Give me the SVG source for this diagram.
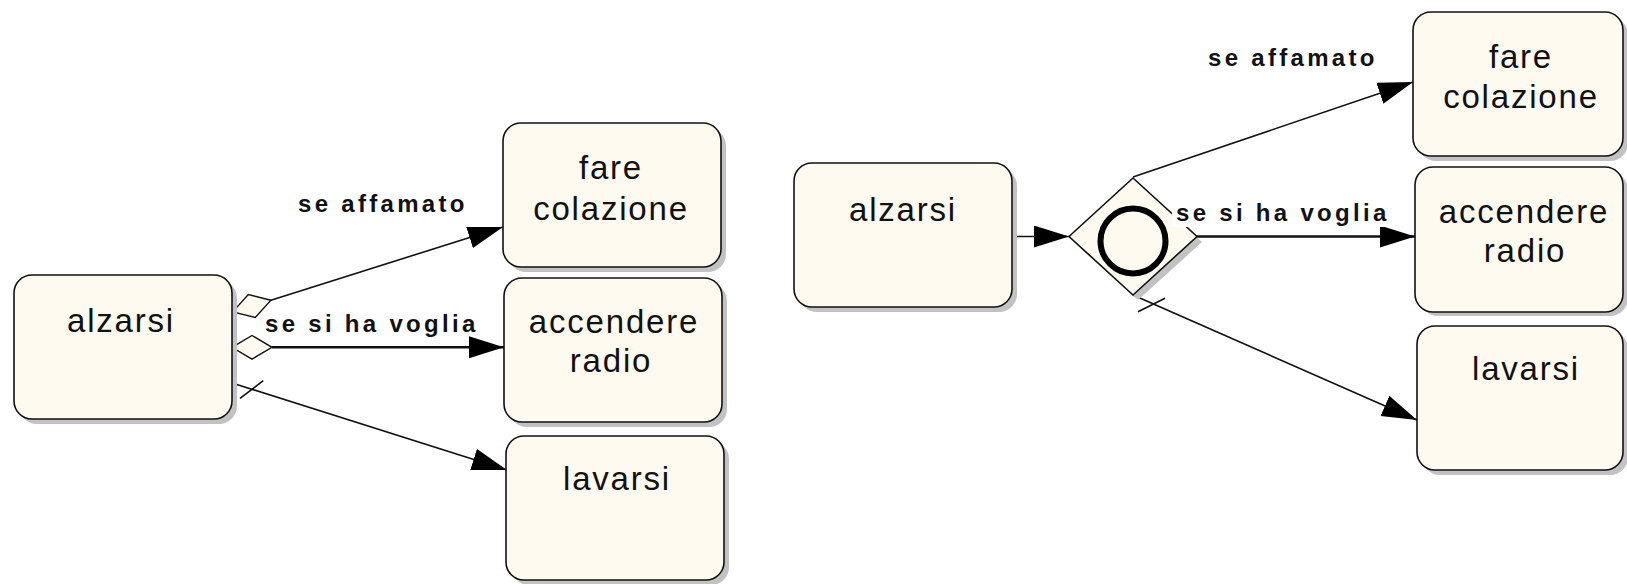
<svg xmlns="http://www.w3.org/2000/svg" width="1627" height="584" viewBox="0 0 1627 584">
<style>
.shadow{fill:#c2c2c2;stroke:none}
.box{fill:#fffaf0;stroke:#111;stroke-width:1.6}
.nt{font-family:"Liberation Sans",Arial,sans-serif;font-size:33px;letter-spacing:1.8px;fill:#111;text-anchor:middle}
.lbl{font-family:"Liberation Sans",Arial,sans-serif;font-size:24px;font-weight:bold;letter-spacing:3.3px;fill:#111}
.ln{stroke:#111;stroke-width:1.6;fill:none}
.thick{stroke-width:2.6}
.dm{fill:#fffaf0;stroke:#111;stroke-width:1.4}
</style>
<defs>
<marker id="arr" markerUnits="userSpaceOnUse" markerWidth="36" markerHeight="24" refX="35" refY="11" orient="auto" viewBox="0 0 36 24">
<path d="M0,0 L35,11 L0,22 z" fill="#000"/>
</marker>
</defs>
<rect width="1627" height="584" fill="#fff"/>

<g id="connectors">
<polygon class="dm" points="232.7,311.9 248.3,294.5 270.9,300.2 255.3,317.5"/>
<line class="ln" x1="270.9" y1="300.2" x2="503" y2="227" marker-end="url(#arr)"/>
<polygon class="dm" points="232,347.3 252,335.5 272,347.3 252,359.1"/>
<line class="ln thick" x1="272" y1="347.3" x2="504" y2="347.3" marker-end="url(#arr)"/>
<line class="ln" x1="232" y1="383" x2="507" y2="470" marker-end="url(#arr)"/>
<line class="ln" stroke-width="1.2" x1="240" y1="398.3" x2="263.3" y2="380.7"/>
<text class="lbl" x="298" y="211.5">se affamato</text>
<text class="lbl" x="265" y="331.5">se si ha voglia</text>

<line class="ln" x1="1012" y1="236.5" x2="1069" y2="236.5" marker-end="url(#arr)"/>
<line class="ln" x1="1133" y1="177" x2="1413" y2="82" marker-end="url(#arr)"/>
<line class="ln thick" x1="1197" y1="236.5" x2="1415" y2="236.5" marker-end="url(#arr)"/>
<line class="ln" x1="1133" y1="295" x2="1417" y2="420" marker-end="url(#arr)"/>
<line class="ln" stroke-width="1.2" x1="1138" y1="311.7" x2="1165" y2="298.3"/>
</g>

<g id="alzarsi-1">
<rect class="shadow" x="19" y="280" width="218" height="144" rx="18"/>
<rect class="box" x="14" y="275" width="218" height="144" rx="18"/>
<text class="nt" x="121" y="332">alzarsi</text>
</g>
<g id="fare-colazione-1">
<rect class="shadow" x="508" y="128" width="218" height="144" rx="18"/>
<rect class="box" x="503" y="123" width="218" height="144" rx="18"/>
<text class="nt" x="611" y="179">fare</text>
<text class="nt" x="611" y="220">colazione</text>
</g>
<g id="accendere-radio-1">
<rect class="shadow" x="509" y="283" width="218" height="144" rx="18"/>
<rect class="box" x="504" y="278" width="218" height="144" rx="18"/>
<text class="nt" x="614" y="333">accendere</text>
<text class="nt" x="611" y="372">radio</text>
</g>
<g id="lavarsi-1">
<rect class="shadow" x="511" y="441" width="218" height="144" rx="18"/>
<rect class="box" x="506" y="436" width="218" height="144" rx="18"/>
<text class="nt" x="617" y="490">lavarsi</text>
</g>

<g id="alzarsi-2">
<rect class="shadow" x="799" y="168" width="218" height="144" rx="18"/>
<rect class="box" x="794" y="163" width="218" height="144" rx="18"/>
<text class="nt" x="903" y="221">alzarsi</text>
</g>
<g id="gateway">
<polygon class="shadow" points="1074,242 1138,183 1202,242 1138,300"/>
<polygon class="box" points="1069,236.5 1133,178 1197,236.5 1133,295"/>
<circle cx="1133" cy="241" r="32.5" fill="none" stroke="#000" stroke-width="6"/>
</g>
<g id="label-voglia-2">
<rect x="1172" y="200" width="220" height="27" fill="#fff"/>
<text class="lbl" x="1176" y="220.5">se si ha voglia</text>
</g>
<text class="lbl" x="1208" y="66">se affamato</text>
<g id="fare-colazione-2">
<rect class="shadow" x="1418" y="17" width="210" height="144" rx="18"/>
<rect class="box" x="1413" y="12" width="210" height="144" rx="18"/>
<text class="nt" x="1521" y="68">fare</text>
<text class="nt" x="1521" y="108">colazione</text>
</g>
<g id="accendere-radio-2">
<rect class="shadow" x="1420" y="172" width="208" height="144" rx="18"/>
<rect class="box" x="1415" y="167" width="208" height="145" rx="18"/>
<text class="nt" x="1524" y="223">accendere</text>
<text class="nt" x="1525" y="262">radio</text>
</g>
<g id="lavarsi-2">
<rect class="shadow" x="1422" y="331" width="206" height="144" rx="18"/>
<rect class="box" x="1417" y="326" width="206" height="144" rx="18"/>
<text class="nt" x="1526" y="380">lavarsi</text>
</g>
</svg>
